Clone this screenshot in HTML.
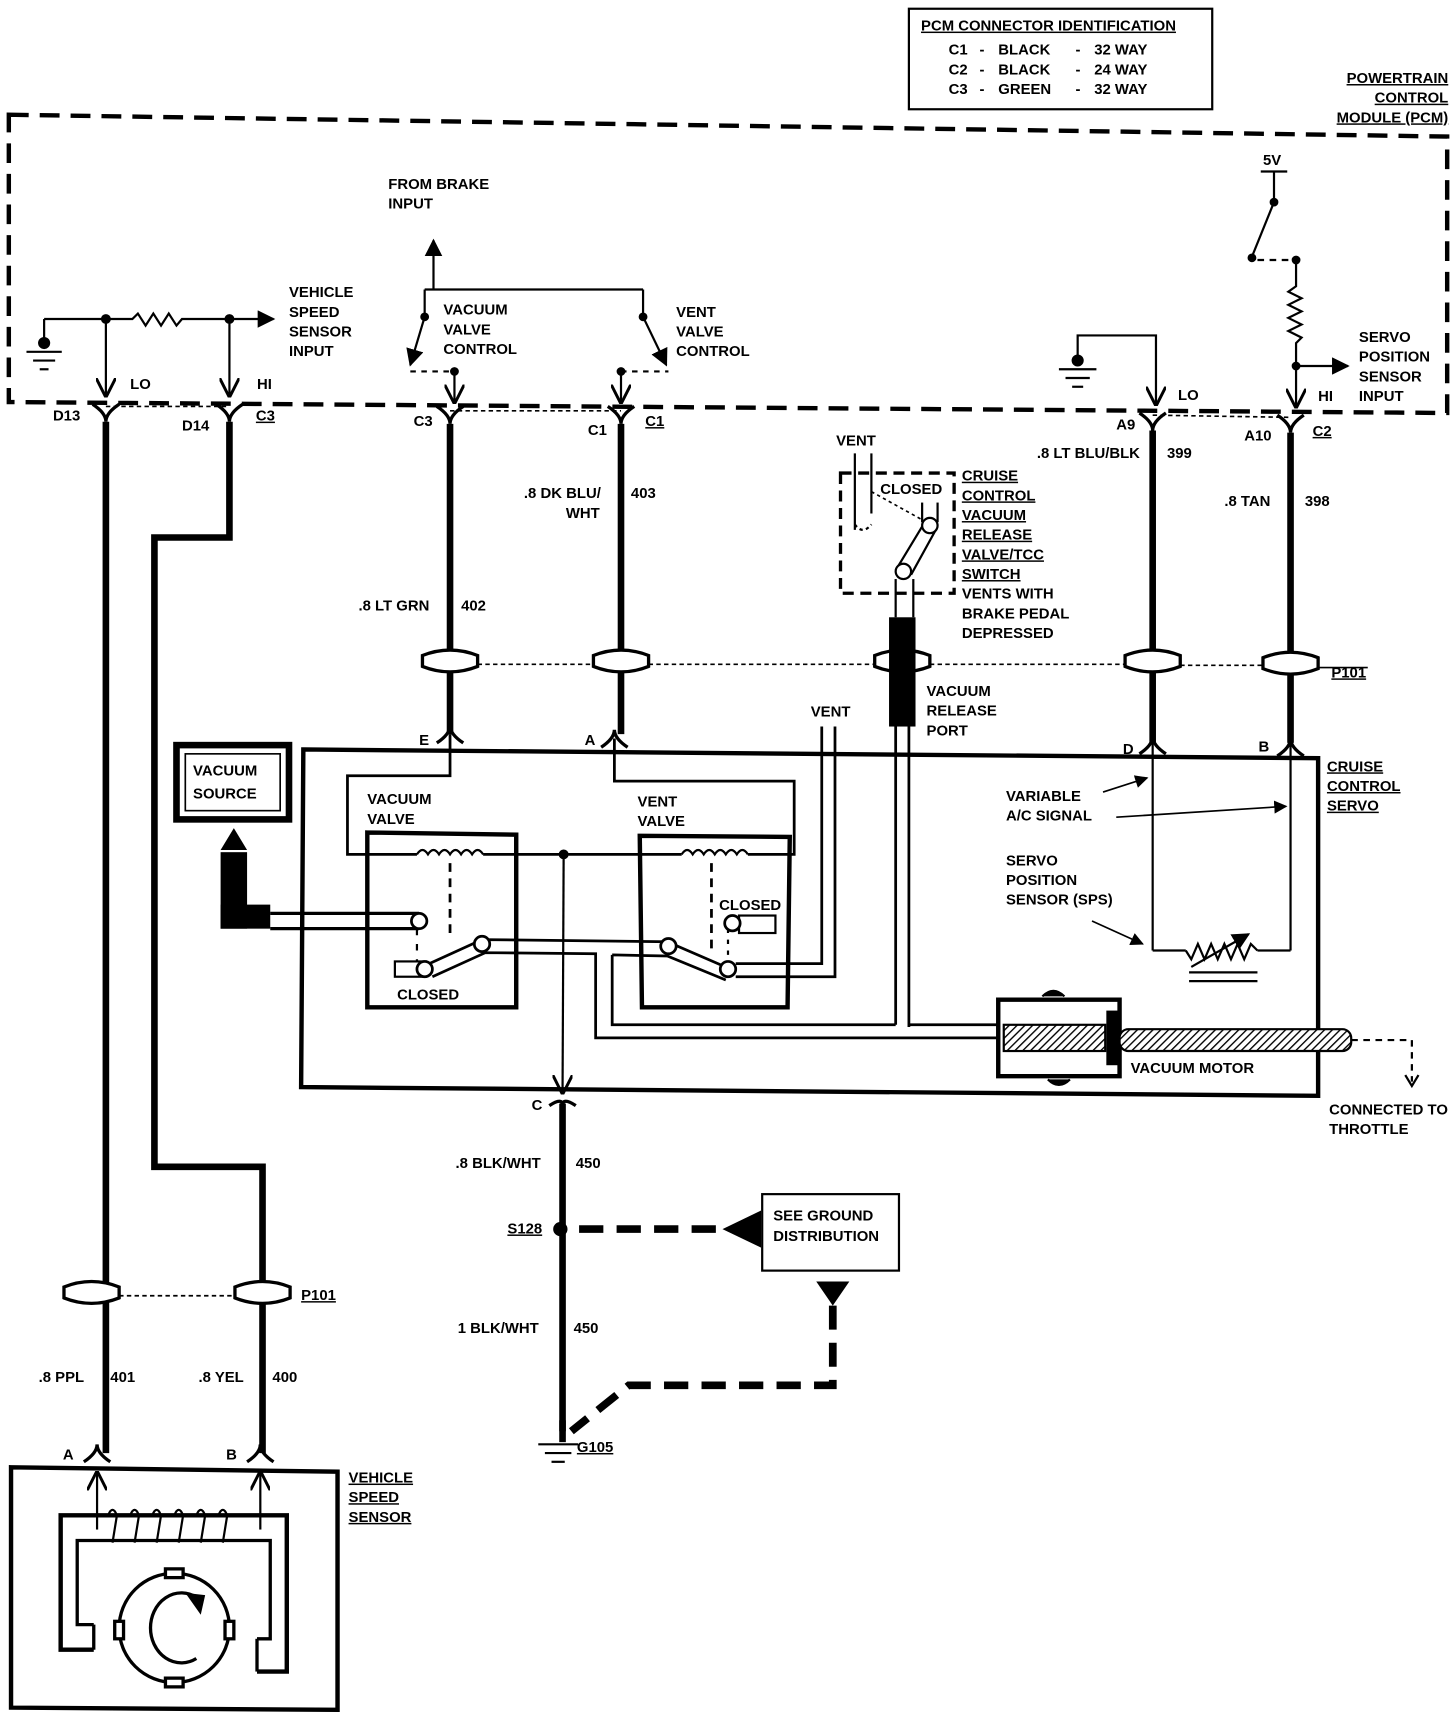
<!DOCTYPE html>
<html><head><meta charset="utf-8"><style>
html,body{margin:0;padding:0;background:#fff}
svg{display:block}
text{font-family:"Liberation Sans Narrow","Liberation Sans",sans-serif;font-weight:bold;font-size:13.5px;fill:#000}
.u{text-decoration:underline}
</style></head><body>
<svg width="1456" height="1712" viewBox="0 0 1320 1567" preserveAspectRatio="none" xmlns="http://www.w3.org/2000/svg">
<defs>
<marker id="ah" viewBox="0 0 10 10" refX="9" refY="5" markerWidth="8" markerHeight="8" orient="auto-start-reverse"><path d="M0,0 L10,5 L0,10 z" fill="#000"/></marker>
<marker id="oa" viewBox="0 0 10 10" refX="9" refY="5" markerWidth="9" markerHeight="9" orient="auto"><path d="M0,0 L10,5 L0,10" fill="none" stroke="#000" stroke-width="1.5"/></marker>
<pattern id="hatch" width="5" height="5" patternUnits="userSpaceOnUse" patternTransform="rotate(45)"><rect width="5" height="5" fill="#fff"/><line x1="0" y1="0" x2="0" y2="5" stroke="#000" stroke-width="2.5"/></pattern>
</defs>
<g fill="none" stroke="#000">
<rect x="824" y="8" width="275" height="92" stroke-width="2"/>
<polygon points="8,105 1312,125 1312,378 8,368" stroke-width="4" stroke-dasharray="18,10"/>
<line x1="40" y1="292" x2="96" y2="292" stroke-width="2"/>
<line x1="40" y1="292" x2="40" y2="312" stroke-width="2"/>
<circle cx="40" cy="314" r="5" fill="#000"/>
<line x1="24" y1="322" x2="56" y2="322" stroke-width="2"/><line x1="30" y1="330" x2="50" y2="330" stroke-width="2"/><line x1="36" y1="338" x2="44" y2="338" stroke-width="2"/>
<polyline points="96,292 120,292 125,287 132,298 139,287 146,298 153,287 160,298 165,292 208,292 248,292" stroke-width="2" marker-end="url(#ah)"/>
<circle cx="96" cy="292" r="4" fill="#000"/><circle cx="208" cy="292" r="4" fill="#000"/>
<line x1="96" y1="292" x2="96" y2="362" stroke-width="2" marker-end="url(#oa)"/>
<line x1="208" y1="292" x2="208" y2="362" stroke-width="2" marker-end="url(#oa)"/>
<line x1="96" y1="372" x2="208" y2="372" stroke-width="1.5" stroke-dasharray="4,3"/>
<g stroke-width="3">
<path d="M84,370 Q96,378 96,386 Q96,378 108,370"/>
<path d="M196,370 Q208,378 208,386 Q208,378 220,370"/>
<path d="M396,372 Q408,380 408,388 Q408,380 420,372"/>
<path d="M551,372 Q563,380 563,388 Q563,380 575,372"/>
<path d="M1033,378 Q1045,386 1045,394 Q1045,386 1057,378"/>
<path d="M1158,380 Q1170,388 1170,396 Q1170,388 1182,380"/>
</g>
<line x1="408" y1="376" x2="563" y2="376" stroke-width="1.5" stroke-dasharray="4,3"/>
<line x1="1045" y1="380" x2="1170" y2="382" stroke-width="1.5" stroke-dasharray="4,3"/>
<g stroke-width="6">
<line x1="96" y1="386" x2="96" y2="1330"/>
<polyline points="208,386 208,492 140,492 140,1068 238,1068 238,1330"/>
<line x1="408" y1="388" x2="408" y2="672"/>
<line x1="563" y1="388" x2="563" y2="672"/>
<line x1="1045" y1="394" x2="1045" y2="680"/>
<line x1="1170" y1="396" x2="1170" y2="680"/>
<line x1="510" y1="1010" x2="510" y2="1310"/>
</g>
<g stroke-width="3">
<path d="M396,680 Q408,672 408,664 Q408,672 420,680"/>
<path d="M545,684 Q557,676 557,668 Q557,676 569,684"/>
<path d="M1033,690 Q1045,682 1045,674 Q1045,682 1057,690"/>
<path d="M1158,692 Q1170,684 1170,676 Q1170,684 1182,692"/>
<path d="M76,1338 Q88,1330 88,1322 Q88,1330 100,1338"/>
<path d="M224,1338 Q236,1330 236,1322 Q236,1330 248,1338"/>
<path d="M498,1012 Q510,1004 510,1012 Q510,1004 522,1012" />
</g>
<g stroke-width="3" fill="#fff">
<path d="M383,600 Q408,590 433,600 L433,610 Q408,620 383,610 Z"/>
<path d="M538,600 Q563,590 588,600 L588,610 Q563,620 538,610 Z"/>
<path d="M793,600 Q818,590 843,600 L843,610 Q818,620 793,610 Z"/>
<path d="M1020,600 Q1045,590 1070,600 L1070,610 Q1045,620 1020,610 Z"/>
<path d="M1145,602 Q1170,592 1195,602 L1195,612 Q1170,622 1145,612 Z"/>
<path d="M58,1178 Q83,1168 108,1178 L108,1188 Q83,1198 58,1188 Z"/>
<path d="M213,1178 Q238,1168 263,1178 L263,1188 Q238,1198 213,1188 Z"/>
</g>
<line x1="433" y1="608" x2="538" y2="608" stroke-width="1.5" stroke-dasharray="4,3"/>
<line x1="588" y1="608" x2="793" y2="608" stroke-width="1.5" stroke-dasharray="4,3"/>
<line x1="843" y1="608" x2="1020" y2="608" stroke-width="1.5" stroke-dasharray="4,3"/>
<line x1="1070" y1="609" x2="1145" y2="609" stroke-width="1.5" stroke-dasharray="4,3"/>
<line x1="1195" y1="611" x2="1240" y2="611" stroke-width="1.5"/>
<line x1="108" y1="1186" x2="213" y2="1186" stroke-width="1.5" stroke-dasharray="4,3"/>
<line x1="393" y1="265" x2="393" y2="220" stroke-width="2" marker-end="url(#ah)"/>
<line x1="385" y1="265" x2="583" y2="265" stroke-width="2"/>
<line x1="385" y1="265" x2="385" y2="290" stroke-width="2"/>
<line x1="583" y1="265" x2="583" y2="290" stroke-width="2"/>
<circle cx="385" cy="290" r="3.5" fill="#000"/><circle cx="583" cy="290" r="3.5" fill="#000"/>
<line x1="385" y1="290" x2="372" y2="334" stroke-width="2" marker-end="url(#ah)"/>
<line x1="583" y1="290" x2="604" y2="334" stroke-width="2" marker-end="url(#ah)"/>
<line x1="372" y1="340" x2="412" y2="340" stroke-width="2" stroke-dasharray="5,5"/>
<line x1="563" y1="340" x2="606" y2="340" stroke-width="2" stroke-dasharray="5,5"/>
<circle cx="412" cy="340" r="3.5" fill="#000"/><circle cx="563" cy="340" r="3.5" fill="#000"/>
<line x1="412" y1="340" x2="412" y2="368" stroke-width="2" marker-end="url(#oa)"/>
<line x1="563" y1="340" x2="563" y2="368" stroke-width="2" marker-end="url(#oa)"/>
<line x1="1143" y1="157" x2="1167" y2="157" stroke-width="2"/>
<line x1="1155" y1="157" x2="1155" y2="185" stroke-width="2"/>
<circle cx="1155" cy="185" r="3.5" fill="#000"/>
<line x1="1155" y1="185" x2="1135" y2="235" stroke-width="2"/>
<circle cx="1135" cy="236" r="3.5" fill="#000"/>
<line x1="1140" y1="238" x2="1175" y2="238" stroke-width="2" stroke-dasharray="6,5"/>
<circle cx="1175" cy="238" r="3.5" fill="#000"/>
<polyline points="1175,238 1175,262 1168,267 1180,273 1168,279 1180,285 1168,291 1180,297 1168,303 1180,309 1175,314 1175,335" stroke-width="2"/>
<circle cx="1175" cy="335" r="3.5" fill="#000"/>
<line x1="1175" y1="335" x2="1222" y2="335" stroke-width="2" marker-end="url(#ah)"/>
<line x1="1175" y1="335" x2="1175" y2="372" stroke-width="2" marker-end="url(#oa)"/>
<circle cx="977" cy="330" r="5" fill="#000"/>
<polyline points="977,330 977,307 1048,307 1048,370" stroke-width="2" marker-end="url(#oa)"/>
<line x1="960" y1="338" x2="994" y2="338" stroke-width="2"/><line x1="966" y1="346" x2="988" y2="346" stroke-width="2"/><line x1="972" y1="354" x2="982" y2="354" stroke-width="2"/>
<rect x="762" y="433" width="103" height="110" stroke-width="3" stroke-dasharray="10,6"/>
<polyline points="775,415 775,485" stroke-width="2"/>
<polyline points="790,415 790,470" stroke-width="2"/>
<path d="M775,480 Q782,490 790,480" stroke-width="2" stroke-dasharray="3,3"/>
<line x1="790" y1="450" x2="840" y2="478" stroke-width="1.5" stroke-dasharray="3,3"/>
<line x1="836" y1="460" x2="836" y2="478" stroke-width="2"/><line x1="850" y1="460" x2="850" y2="478" stroke-width="2"/>
<path d="M836,482 L812,522 M850,482 L826,526" stroke-width="2"/>
<circle cx="843" cy="481" r="7" fill="#fff" stroke-width="2"/>
<circle cx="819" cy="523" r="7" fill="#fff" stroke-width="2"/>
<line x1="812" y1="530" x2="812" y2="565" stroke-width="2"/><line x1="828" y1="530" x2="828" y2="565" stroke-width="2"/>
<rect x="806" y="565" width="24" height="100" fill="#000" stroke="none"/>
<line x1="812" y1="665" x2="812" y2="938" stroke-width="2.5"/>
<line x1="824" y1="665" x2="824" y2="940" stroke-width="2.5"/>
<polygon points="275,686 1195,694 1195,1003 273,995" stroke-width="4"/>
<rect x="160" y="682" width="102" height="68" stroke-width="6"/>
<rect x="168" y="690" width="86" height="52" stroke-width="1.5"/>
<polygon points="200,778 212,758 224,778" fill="#000" stroke="none"/>
<rect x="200" y="780" width="24" height="70" fill="#000" stroke="none"/>
<rect x="200" y="828" width="45" height="22" fill="#000" stroke="none"/>
<line x1="245" y1="836" x2="380" y2="836" stroke-width="3"/>
<line x1="245" y1="850" x2="380" y2="850" stroke-width="3"/>
<circle cx="380" cy="843" r="7" fill="#fff" stroke-width="2.5"/>
<polygon points="333,762 468,764 468,922 333,922" stroke-width="4"/>
<polygon points="580,765 716,766 714,922 582,922" stroke-width="4"/>
<polyline points="408,672 408,710 315,710 315,782 378,782" stroke-width="2.5"/>
<path d="M378,782 q5,-8 10,0 q5,-8 10,0 q5,-8 10,0 q5,-8 10,0 q5,-8 10,0 q5,-8 10,0" stroke-width="2"/>
<line x1="438" y1="782" x2="618" y2="782" stroke-width="2.5"/>
<path d="M618,782 q5,-8 10,0 q5,-8 10,0 q5,-8 10,0 q5,-8 10,0 q5,-8 10,0 q5,-8 10,0" stroke-width="2"/>
<polyline points="678,782 720,782 720,715 557,715 557,676" stroke-width="2.5"/>
<circle cx="511" cy="782" r="4" fill="#000"/>
<line x1="511" y1="782" x2="510" y2="1000" stroke-width="2" marker-end="url(#oa)"/>
<line x1="408" y1="790" x2="408" y2="860" stroke-width="2.5" stroke-dasharray="8,6"/>
<line x1="378" y1="850" x2="378" y2="880" stroke-width="2" stroke-dasharray="6,8"/>
<line x1="645" y1="790" x2="645" y2="870" stroke-width="2.5" stroke-dasharray="8,6"/>
<line x1="660" y1="850" x2="660" y2="878" stroke-width="2" stroke-dasharray="4,6"/>
<path d="M385,884 L437,860 L605,862 L660,886 M392,894 L440,872 L540,873 L540,950 L905,950 M555,874 L605,875 L658,897 M555,874 L555,938 L812,938 M824,938 L905,938" stroke-width="2.5"/>
<rect x="358" y="880" width="28" height="14" fill="#fff" stroke-width="2"/>
<circle cx="385" cy="887" r="7" fill="#fff" stroke-width="2.5"/>
<circle cx="437" cy="864" r="7" fill="#fff" stroke-width="2.5"/>
<circle cx="606" cy="866" r="7" fill="#fff" stroke-width="2.5"/>
<circle cx="660" cy="887" r="7" fill="#fff" stroke-width="2.5"/>
<rect x="670" y="838" width="33" height="16" fill="#fff" stroke-width="2"/>
<circle cx="664" cy="845" r="7" fill="#fff" stroke-width="2.5"/>
<polyline points="667,882 745,882 745,665" stroke-width="2.5"/>
<polyline points="667,894 757,894 757,665" stroke-width="2.5"/>
<path d="M905,915 L1015,915 L1015,985 L905,985 Z" stroke-width="4"/>
<path d="M945,912 Q955,902 965,912" fill="#000" stroke-width="2"/>
<path d="M950,988 Q960,998 970,988" fill="#000" stroke-width="2"/>
<rect x="910" y="938" width="92" height="24" fill="url(#hatch)" stroke-width="2"/>
<rect x="1003" y="925" width="12" height="50" fill="#000" stroke="none"/>
<rect x="1015" y="942" width="210" height="20" rx="8" fill="url(#hatch)" stroke-width="2"/>
<path d="M1225,952 L1280,952 L1280,990" stroke-width="2" stroke-dasharray="6,5"/>
<polyline points="1274,984 1280,994 1286,984" stroke-width="2"/>
<line x1="1045" y1="674" x2="1045" y2="870" stroke-width="2"/>
<line x1="1170" y1="676" x2="1170" y2="870" stroke-width="2"/>
<line x1="1045" y1="870" x2="1075" y2="870" stroke-width="2"/>
<line x1="1140" y1="870" x2="1170" y2="870" stroke-width="2"/>
<polyline points="1075,870 1080,878 1086,864 1092,878 1098,864 1104,878 1110,864 1116,878 1122,864 1128,878 1134,864 1140,870" stroke-width="2"/>
<line x1="1080" y1="885" x2="1132" y2="855" stroke-width="2" marker-end="url(#ah)"/>
<line x1="1078" y1="890" x2="1140" y2="890" stroke-width="2"/><line x1="1078" y1="898" x2="1140" y2="898" stroke-width="2"/>
<line x1="1000" y1="725" x2="1040" y2="712" stroke-width="1.5" marker-end="url(#ah)"/>
<line x1="1012" y1="748" x2="1166" y2="738" stroke-width="1.5" marker-end="url(#ah)"/>
<line x1="990" y1="843" x2="1036" y2="864" stroke-width="1.5" marker-end="url(#ah)"/>
<circle cx="508" cy="1125" r="6" fill="#000"/>
<line x1="525" y1="1125" x2="655" y2="1125" stroke-width="7" stroke-dasharray="22,12"/>
<polygon points="655,1125 690,1108 690,1142" fill="#000" stroke="none"/>
<rect x="691" y="1093" width="124" height="70" stroke-width="2"/>
<polygon points="740,1173 770,1173 755,1195" fill="#000" stroke="none"/>
<polyline points="755,1195 755,1268 570,1268 518,1310" stroke-width="7" stroke-dasharray="22,12"/>
<line x1="510" y1="1300" x2="510" y2="1320" stroke-width="6"/>
<line x1="488" y1="1322" x2="524" y2="1322" stroke-width="2"/><line x1="494" y1="1330" x2="518" y2="1330" stroke-width="2"/><line x1="500" y1="1338" x2="512" y2="1338" stroke-width="2"/>
<polygon points="10,1343 306,1347 306,1565 10,1563" stroke-width="4"/>
<line x1="88" y1="1400" x2="88" y2="1348" stroke-width="2" marker-end="url(#oa)"/>
<line x1="236" y1="1400" x2="236" y2="1348" stroke-width="2" marker-end="url(#oa)"/>
<polyline points="85,1510 55,1510 55,1387 260,1387 260,1530 233,1530" stroke-width="4"/>
<polyline points="85,1487 70,1487 70,1410 245,1410 245,1500 233,1500" stroke-width="3"/>
<line x1="85" y1="1487" x2="85" y2="1510" stroke-width="3"/>
<line x1="233" y1="1500" x2="233" y2="1530" stroke-width="3"/>
<path d="M98,1387 q4,-10 8,0 l-4,25 M118,1387 q4,-10 8,0 l-4,25 M138,1387 q4,-10 8,0 l-4,25 M158,1387 q4,-10 8,0 l-4,25 M178,1387 q4,-10 8,0 l-4,25 M198,1387 q4,-10 8,0 l-4,25" stroke-width="2"/>
<circle cx="158" cy="1490" r="50" stroke-width="3"/>
<g stroke-width="3" fill="#fff">
<rect x="150" y="1436" width="16" height="8"/><rect x="150" y="1536" width="16" height="8"/>
<rect x="104" y="1484" width="8" height="16"/><rect x="204" y="1484" width="8" height="16"/>
</g>
<path d="M178,1462 A28,32 0 1 0 178,1518" stroke-width="3"/>
<polygon points="168,1458 186,1460 182,1478" fill="#000" stroke="none"/>
</g>
<text x="835" y="28" class="u">PCM CONNECTOR IDENTIFICATION</text>
<text x="860" y="50">C1</text><text x="888" y="50">-</text><text x="905" y="50">BLACK</text><text x="975" y="50">-</text><text x="992" y="50">32 WAY</text>
<text x="860" y="68">C2</text><text x="888" y="68">-</text><text x="905" y="68">BLACK</text><text x="975" y="68">-</text><text x="992" y="68">24 WAY</text>
<text x="860" y="86">C3</text><text x="888" y="86">-</text><text x="905" y="86">GREEN</text><text x="975" y="86">-</text><text x="992" y="86">32 WAY</text>
<text x="1313" y="76" text-anchor="end" class="u">POWERTRAIN</text>
<text x="1313" y="94" text-anchor="end" class="u">CONTROL</text>
<text x="1313" y="112" text-anchor="end" class="u">MODULE (PCM)</text>
<text x="352" y="173">FROM BRAKE</text><text x="352" y="191">INPUT</text>
<text x="262" y="272">VEHICLE</text><text x="262" y="290">SPEED</text><text x="262" y="308">SENSOR</text><text x="262" y="326">INPUT</text>
<text x="402" y="288">VACUUM</text><text x="402" y="306">VALVE</text><text x="402" y="324">CONTROL</text>
<text x="613" y="290">VENT</text><text x="613" y="308">VALVE</text><text x="613" y="326">CONTROL</text>
<text x="1145" y="151">5V</text>
<text x="1232" y="313">SERVO</text><text x="1232" y="331">POSITION</text><text x="1232" y="349">SENSOR</text><text x="1232" y="367">INPUT</text>
<text x="118" y="356">LO</text><text x="233" y="356">HI</text>
<text x="1068" y="366">LO</text><text x="1195" y="367">HI</text>
<text x="48" y="385">D13</text><text x="165" y="394">D14</text><text x="232" y="385" class="u">C3</text>
<text x="375" y="390">C3</text><text x="533" y="398">C1</text><text x="585" y="390" class="u">C1</text>
<text x="1012" y="393">A9</text><text x="1128" y="403">A10</text><text x="1190" y="399" class="u">C2</text>
<text x="940" y="419">.8 LT BLU/BLK</text><text x="1058" y="419">399</text>
<text x="1110" y="463">.8 TAN</text><text x="1183" y="463">398</text>
<text x="475" y="456">.8 DK BLU/</text><text x="513" y="474">WHT</text><text x="572" y="456">403</text>
<text x="325" y="559">.8 LT GRN</text><text x="418" y="559">402</text>
<text x="758" y="408">VENT</text><text x="798" y="452">CLOSED</text>
<text x="872" y="440" class="u">CRUISE</text><text x="872" y="458" class="u">CONTROL</text><text x="872" y="476" class="u">VACUUM</text><text x="872" y="494" class="u">RELEASE</text><text x="872" y="512" class="u">VALVE/TCC</text><text x="872" y="530" class="u">SWITCH</text>
<text x="872" y="548">VENTS WITH</text><text x="872" y="566">BRAKE PEDAL</text><text x="872" y="584">DEPRESSED</text>
<text x="1207" y="620" class="u">P101</text>
<text x="840" y="637">VACUUM</text><text x="840" y="655">RELEASE</text><text x="840" y="673">PORT</text>
<text x="735" y="656">VENT</text>
<text x="380" y="682">E</text><text x="530" y="682">A</text><text x="1018" y="690">D</text><text x="1141" y="688">B</text>
<text x="1203" y="706" class="u">CRUISE</text><text x="1203" y="724" class="u">CONTROL</text><text x="1203" y="742" class="u">SERVO</text>
<text x="175" y="710">VACUUM</text><text x="175" y="731">SOURCE</text>
<text x="333" y="736">VACUUM</text><text x="333" y="754">VALVE</text>
<text x="578" y="738">VENT</text><text x="578" y="756">VALVE</text>
<text x="912" y="733">VARIABLE</text><text x="912" y="751">A/C SIGNAL</text>
<text x="912" y="792">SERVO</text><text x="912" y="810">POSITION</text><text x="912" y="828">SENSOR (SPS)</text>
<text x="652" y="833">CLOSED</text><text x="360" y="915">CLOSED</text>
<text x="1025" y="982">VACUUM MOTOR</text>
<text x="1205" y="1020">CONNECTED TO</text><text x="1205" y="1038">THROTTLE</text>
<text x="482" y="1016">C</text>
<text x="413" y="1069">.8 BLK/WHT</text><text x="522" y="1069">450</text>
<text x="460" y="1129" class="u">S128</text>
<text x="701" y="1117">SEE GROUND</text><text x="701" y="1136">DISTRIBUTION</text>
<text x="273" y="1190" class="u">P101</text>
<text x="415" y="1220">1 BLK/WHT</text><text x="520" y="1220">450</text>
<text x="35" y="1265">.8 PPL</text><text x="100" y="1265">401</text>
<text x="180" y="1265">.8 YEL</text><text x="247" y="1265">400</text>
<text x="523" y="1329" class="u">G105</text>
<text x="57" y="1336">A</text><text x="205" y="1336">B</text>
<text x="316" y="1357" class="u">VEHICLE</text><text x="316" y="1375" class="u">SPEED</text><text x="316" y="1393" class="u">SENSOR</text>
</svg>
</body></html>
